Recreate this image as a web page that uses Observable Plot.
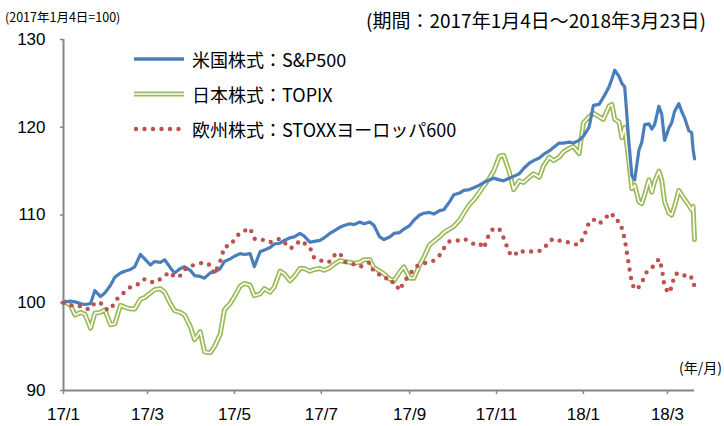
<!DOCTYPE html>
<html><head><meta charset="utf-8">
<script src="https://cdn.jsdelivr.net/npm/d3@7"></script>
<script src="https://cdn.jsdelivr.net/npm/@observablehq/plot@0.6"></script>
<style>
body{margin:0;background:#fff;}
#wrap{position:relative;width:724px;height:426px;overflow:hidden;font-family:"Noto Sans CJK JP","Noto Sans",sans-serif;color:#000;}
.note{position:absolute;white-space:nowrap;line-height:1;}
.leg{position:absolute;left:133px;white-space:nowrap;font-size:18px;line-height:1;display:flex;align-items:center;}
.leg svg{margin-right:7px;}
</style></head><body><div id="wrap"></div>
<script>
const dates = ["2017-01-04","2017-01-05","2017-01-09","2017-01-12","2017-01-16","2017-01-19","2017-01-23","2017-01-26","2017-01-30",
"2017-02-02","2017-02-06","2017-02-09","2017-02-13","2017-02-16","2017-02-20","2017-02-23","2017-02-27",
"2017-03-02","2017-03-06","2017-03-09","2017-03-13","2017-03-16","2017-03-20","2017-03-23","2017-03-27","2017-03-30",
"2017-04-03","2017-04-06","2017-04-10","2017-04-13","2017-04-17","2017-04-20","2017-04-24","2017-04-27",
"2017-05-01","2017-05-04","2017-05-08","2017-05-11","2017-05-15","2017-05-18","2017-05-22","2017-05-25","2017-05-29",
"2017-06-01","2017-06-05","2017-06-08","2017-06-12","2017-06-15","2017-06-19","2017-06-22","2017-06-26","2017-06-29",
"2017-07-03","2017-07-06","2017-07-10","2017-07-13","2017-07-17","2017-07-20","2017-07-24","2017-07-27","2017-07-31",
"2017-08-03","2017-08-07","2017-08-10","2017-08-14","2017-08-17","2017-08-21","2017-08-24","2017-08-28","2017-08-31",
"2017-09-04","2017-09-07","2017-09-11","2017-09-14","2017-09-18","2017-09-21","2017-09-25","2017-09-28",
"2017-10-02","2017-10-05","2017-10-09","2017-10-12","2017-10-16","2017-10-19","2017-10-23","2017-10-26","2017-10-30",
"2017-11-02","2017-11-06","2017-11-09","2017-11-13","2017-11-16","2017-11-20","2017-11-23","2017-11-27","2017-11-30",
"2017-12-04","2017-12-07","2017-12-11","2017-12-14","2017-12-18","2017-12-21","2017-12-25","2017-12-28",
"2018-01-01","2018-01-04","2018-01-08","2018-01-11","2018-01-15","2018-01-18","2018-01-22","2018-01-24","2018-01-26","2018-01-29","2018-01-31",
"2018-02-02","2018-02-05","2018-02-07","2018-02-09","2018-02-12","2018-02-14","2018-02-16","2018-02-19","2018-02-21","2018-02-23","2018-02-26","2018-02-28",
"2018-03-02","2018-03-05","2018-03-07","2018-03-09","2018-03-12","2018-03-14","2018-03-16","2018-03-19","2018-03-21","2018-03-22","2018-03-23"];

const sp500 = [100.0,100.1,100.2,100.1,99.9,99.8,99.9,101.4,100.7,
101.1,102.0,102.9,103.4,103.6,103.8,104.1,105.5,
105.0,104.3,104.7,104.6,104.9,104.0,103.4,103.9,104.1,
103.7,103.1,103.0,102.8,103.4,103.5,103.9,104.7,
105.0,105.3,105.6,105.5,105.6,104.1,105.8,106.0,106.3,
106.7,106.8,107.1,107.4,107.5,107.9,107.6,106.9,107.0,
107.1,107.4,107.9,108.2,108.6,108.8,109.0,108.9,109.2,
109.0,109.2,108.8,107.5,107.2,107.5,107.9,108.0,108.4,
108.8,109.4,110.0,110.2,110.3,110.1,110.5,110.6,
111.5,112.3,112.5,112.8,112.9,113.1,113.4,113.7,114.0,
114.2,114.0,113.9,114.2,114.4,114.7,115.3,115.9,116.2,
116.5,116.9,117.3,117.7,118.2,118.2,118.3,118.2,
118.5,119.0,120.0,122.5,122.6,123.4,124.6,125.5,126.5,125.8,125.0,
124.6,118.2,114.5,114.0,117.4,118.3,120.3,120.4,119.8,120.3,122.4,121.5,
118.5,119.9,120.5,121.8,122.7,121.8,121.1,119.6,119.4,117.5,116.4];

const topix = [100.0,100.1,99.7,98.6,98.9,98.7,97.1,98.8,98.9,
99.2,97.5,97.6,99.7,99.5,99.3,99.3,100.4,
100.6,101.1,101.5,101.6,101.2,99.9,99.1,98.9,98.6,
97.3,95.8,96.7,94.4,94.3,95.0,96.4,99.2,
99.9,100.7,101.9,102.2,102.0,100.8,101.0,101.6,101.2,
101.8,103.6,103.3,102.5,103.0,103.9,103.9,103.6,103.8,
103.9,103.7,104.0,104.4,104.8,104.7,104.6,104.5,104.6,
104.9,104.9,104.0,103.6,103.3,102.7,102.5,103.5,104.1,
102.8,102.8,104.3,105.2,106.6,107.0,107.5,108.0,
108.4,108.7,109.4,110.2,111.2,111.7,112.6,113.3,114.2,
115.0,116.7,116.8,114.9,112.9,113.9,113.7,114.3,114.7,
114.3,115.6,116.6,116.2,116.6,117.2,117.6,117.8,
117.0,120.5,121.2,121.6,121.2,120.9,122.4,122.6,120.9,120.6,118.8,
120.0,116.0,113.0,113.4,111.5,111.3,112.3,114.0,112.6,113.8,115.0,114.0,
111.5,110.2,110.0,111.0,112.8,112.3,111.8,111.1,110.6,111.0,107.2];

const stoxx = [100.0,100.0,99.7,99.7,99.6,99.3,99.3,100.0,100.0,
99.3,99.2,100.1,100.9,101.2,101.8,102.0,102.2,
102.7,102.4,102.3,102.7,103.1,103.5,102.9,103.1,103.8,
104.2,104.3,104.5,104.6,104.3,103.3,104.7,106.4,
106.5,107.2,108.0,108.2,108.5,107.3,107.1,107.2,106.9,
107.1,107.3,106.9,106.2,106.4,107.1,106.8,106.3,105.1,
104.9,104.6,104.7,105.4,105.7,104.7,104.4,104.4,104.1,
104.3,104.6,103.5,103.2,103.1,102.3,102.4,101.4,102.4,
103.2,103.9,104.4,104.5,104.6,104.8,105.4,106.2,
107.0,107.1,107.1,107.3,107.0,106.7,106.8,106.2,107.9,
108.5,108.4,107.4,105.7,105.3,106.0,105.8,105.8,105.9,
105.9,106.1,107.0,107.3,107.1,106.9,106.9,106.7,
106.6,107.4,109.2,109.5,109.0,109.4,110.1,110.2,109.4,109.3,108.5,
107.3,104.2,102.3,101.5,101.8,102.2,103.2,103.8,104.0,104.3,105.0,104.0,
101.8,101.1,101.8,103.2,103.4,103.2,103.1,102.7,102.9,102.6,101.8];

const seriesNames = ["米国株式：S&P500","日本株式：TOPIX","欧州株式：STOXXヨーロッパ600"];
const seriesColors = ["#4a7ebb","#9bbb59","#c0504d"];
const yTicks = [90,100,110,120,130];
const xTickDates = ["2017-01-04","2017-03-04","2017-05-04","2017-07-04","2017-09-04","2017-11-04","2018-01-04","2018-03-04"];
const xTickLabels = ["17/1","17/3","17/5","17/7","17/9","17/11","18/1","18/3"];
const periodStart = "2017-01-04";
const periodEnd = "2018-03-23";

const rows = dates.map((d,i)=>({date:new Date(d), sp:sp500[i], topix:topix[i], stoxx:stoxx[i]}));
const tickVals = xTickDates.map(d=>new Date(d));
const tickMap = new Map(tickVals.map((d,i)=>[+d, xTickLabels[i]]));
const axisColor = "#868686";

const chart = Plot.plot({
  width:724, height:426,
  marginLeft:63, marginRight:30, marginTop:39, marginBottom:36,
  style:{fontFamily:"'Liberation Sans','Noto Sans',sans-serif", fontSize:"17px", color:"#000", background:"#fff", overflow:"visible"},
  x:{type:"utc", domain:[new Date(periodStart), new Date(periodEnd)]},
  y:{domain:[90,130]},
  marks:[
    Plot.axisY({ticks:yTicks, tickSize:3, tickPadding:15, stroke:axisColor, strokeWidth:1.5, fill:"#000", fontSize:17, label:null}),
    Plot.axisX({ticks:tickVals, tickFormat:d=>tickMap.get(+d), tickSize:4, tickPadding:13, stroke:axisColor, strokeWidth:1.5, fill:"#000", fontSize:17, label:null}),
    Plot.ruleX([new Date(periodStart)], {stroke:axisColor, strokeWidth:2}),
    Plot.ruleY([90], {stroke:axisColor, strokeWidth:2}),
    Plot.line(rows, {x:"date", y:"topix", stroke:seriesColors[1], strokeWidth:5}),
    Plot.line(rows, {x:"date", y:"topix", stroke:"#fff", strokeWidth:1.6}),
    Plot.line(rows, {x:"date", y:"sp", stroke:seriesColors[0], strokeWidth:3.2}),
    Plot.line(rows, {x:"date", y:"stoxx", stroke:seriesColors[2], strokeWidth:4.4, strokeDasharray:"0 8.5", strokeLinecap:"round"})
  ]
});

const wrap = document.getElementById("wrap");
wrap.appendChild(chart);

function note(text, style){
  const el = document.createElement("div");
  el.className = "note";
  el.textContent = text;
  Object.assign(el.style, style);
  wrap.appendChild(el);
}
note("(2017年1月4日=100)", {left:"5px", top:"11px", fontSize:"12.5px"});
note("(期間：2017年1月4日～2018年3月23日)", {right:"18px", top:"10px", fontSize:"19px"});
note("(年/月)", {right:"2px", top:"360px", fontSize:"14px"});

const swatches = [
  `<svg width="52" height="10"><line x1="1" y1="5" x2="51" y2="5" stroke="${seriesColors[0]}" stroke-width="3.4"/></svg>`,
  `<svg width="52" height="10"><line x1="1" y1="5" x2="51" y2="5" stroke="${seriesColors[1]}" stroke-width="5"/><line x1="1" y1="5" x2="51" y2="5" stroke="#fff" stroke-width="1.6"/></svg>`,
  `<svg width="52" height="10"><line x1="3" y1="5" x2="51" y2="5" stroke="${seriesColors[2]}" stroke-width="4.4" stroke-dasharray="0 8.5" stroke-linecap="round"/></svg>`
];
const legTops = [50, 85, 120];
seriesNames.forEach((name,i)=>{
  const row = document.createElement("div");
  row.className = "leg";
  row.style.top = legTops[i] + "px";
  row.innerHTML = swatches[i] + `<span>${name}</span>`;
  wrap.appendChild(row);
});
</script></body></html>
